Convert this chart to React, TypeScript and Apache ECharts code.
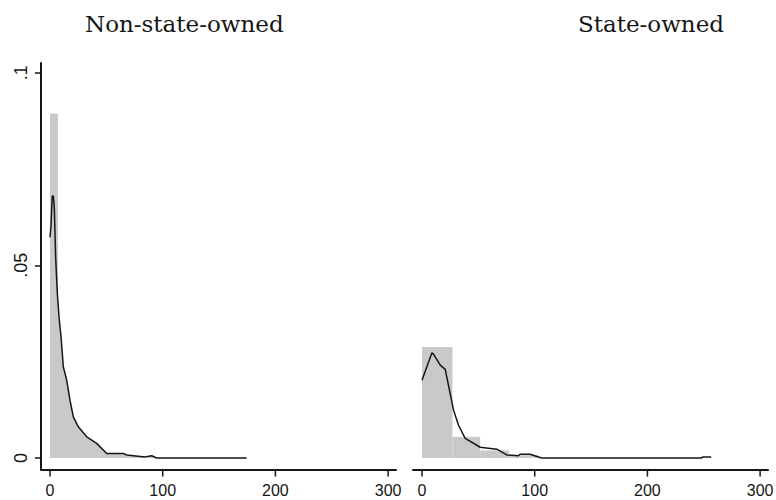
import React, { useEffect, useRef } from "react";
import * as echarts from "echarts";

// Titles
const panelTitles = ["Non-state-owned", "State-owned"];

// Axis ticks
const xTicks = [0, 100, 200, 300];
const yTicks = [0, 0.05, 0.1];
const yTickLabels = ["0", ".05", ".1"];

// Histogram bins: [start, end, density]
const leftHist: number[][] = [[0, 7, 0.0894]];
const rightHist: number[][] = [
  [0, 27, 0.0288],
  [27, 51.6, 0.0055],
  [51.6, 77, 0.002],
  [77, 103, 0.0007],
];

// Density lines: [x, density]
const leftLine: number[][] = [
  [0, 0.0573], [0.9, 0.0604], [2, 0.068], [2.9, 0.068], [3.8, 0.065],
  [5, 0.052], [6.5, 0.0427], [8, 0.0366], [9.8, 0.0314], [11.8, 0.0237],
  [14.8, 0.0202], [17.7, 0.015], [20.7, 0.0107], [25.1, 0.0081],
  [32.6, 0.0055], [41.4, 0.0038], [50.3, 0.0012], [65, 0.0012],
  [68, 0.0008], [84.3, 0.0003], [90.2, 0.0006], [94.6, 0.0],
  [174.5, 0.0],
];
const rightLine: number[][] = [
  [0, 0.0202], [8.8, 0.0273], [10.3, 0.0269], [16.2, 0.0241],
  [20.6, 0.023], [28, 0.0124], [32.4, 0.0085], [38.3, 0.0051],
  [51.6, 0.0028], [66.4, 0.0023], [75.2, 0.0008], [85.5, 0.0006],
  [87, 0.001], [95.8, 0.001], [106.2, 0.0], [247.8, 0.0],
  [249.3, 0.0003], [256.6, 0.0003],
];

const GRAY = "#c9c9c9";
const INK = "#161616";
const Y_MIN = -0.003;

export default function App() {
  const ref = useRef<HTMLDivElement>(null);
  useEffect(() => {
    if (!ref.current) return;
    const chart = echarts.init(ref.current, undefined, { renderer: "svg" });

    const histItem = (params: any, api: any) => {
      const a = api.coord([api.value(0), api.value(2)]);
      const b = api.coord([api.value(1), 0]);
      return {
        type: "rect",
        shape: { x: a[0], y: a[1], width: b[0] - a[0], height: b[1] - a[1] },
        style: { fill: GRAY },
      };
    };

    const xAxis = (gridIndex: number) => ({
      type: "value",
      gridIndex,
      min: -8,
      max: 307,
      splitLine: { show: false },
      axisLine: { show: true, onZero: false, lineStyle: { color: INK, width: 2 } },
      axisTick: { show: false },
      axisLabel: { show: false },
    });

    chart.setOption({
      animation: false,
      backgroundColor: "#ffffff",
      title: [
        {
          text: panelTitles[0],
          left: 85,
          top: 12,
          padding: 0,
          textStyle: { fontFamily: "DejaVu Serif", fontSize: 23, fontWeight: "normal", color: INK },
        },
        {
          text: panelTitles[1],
          left: 578,
          top: 12,
          padding: 0,
          textStyle: { fontFamily: "DejaVu Serif", fontSize: 23, fontWeight: "normal", color: INK },
        },
      ],
      grid: [
        { left: 41, top: 63, width: 355, height: 406.6 },
        { left: 413, top: 63, width: 355, height: 406.6 },
      ],
      xAxis: [xAxis(0), xAxis(1)],
      yAxis: [
        {
          type: "value",
          gridIndex: 0,
          min: Y_MIN,
          max: 0.1025,
          splitLine: { show: false },
          axisLine: { show: true, onZero: false, lineStyle: { color: INK, width: 2 } },
          axisTick: { show: true, length: 6, customValues: yTicks, lineStyle: { color: INK, width: 1.5 } },
          axisLabel: {
            customValues: yTicks,
            rotate: 90,
            margin: 11,
            fontFamily: "Liberation Sans",
            fontSize: 18,
            color: INK,
            formatter: (v: number) => yTickLabels[yTicks.findIndex((t) => Math.abs(t - v) < 1e-9)] ?? "",
          },
        },
        { type: "value", gridIndex: 1, min: Y_MIN, max: 0.1025, show: false },
      ],
      series: [
        { type: "custom", xAxisIndex: 0, yAxisIndex: 0, renderItem: histItem, data: leftHist, z: 1, silent: true },
        { type: "custom", xAxisIndex: 1, yAxisIndex: 1, renderItem: histItem, data: rightHist, z: 1, silent: true },
        {
          type: "line",
          xAxisIndex: 0,
          yAxisIndex: 0,
          data: leftLine,
          showSymbol: false,
          lineStyle: { color: INK, width: 1.5 },
          areaStyle: { color: GRAY, opacity: 1, origin: 0 },
          z: 2,
          silent: true,
        },
        {
          type: "line",
          xAxisIndex: 1,
          yAxisIndex: 1,
          data: rightLine,
          showSymbol: false,
          lineStyle: { color: INK, width: 1.5 },
          z: 2,
          silent: true,
        },
      ],
    });

    // x ticks and labels positioned through the axes' own scales
    const elements: any[] = [];
    [0, 1].forEach((gi) => {
      xTicks.forEach((t) => {
        const p = chart.convertToPixel({ xAxisIndex: gi, yAxisIndex: gi } as any, [t, Y_MIN]) as number[];
        if (!p) return;
        const x = p[0];
        const y = p[1];
        elements.push({
          type: "line",
          shape: { x1: x, y1: y, x2: x, y2: y + 7 },
          style: { stroke: INK, lineWidth: 1.5 },
          silent: true,
        });
        elements.push({
          type: "text",
          x,
          y: y + 13,
          style: {
            text: String(t),
            fill: INK,
            font: '16px "Liberation Sans"',
            textAlign: "center",
            textVerticalAlign: "top",
          },
          silent: true,
        });
      });
    });
    chart.setOption({ graphic: { elements } });

    return () => chart.dispose();
  }, []);
  return <div ref={ref} style={{ width: 776, height: 500, position: "absolute", left: 0, top: 0 }} />;
}
